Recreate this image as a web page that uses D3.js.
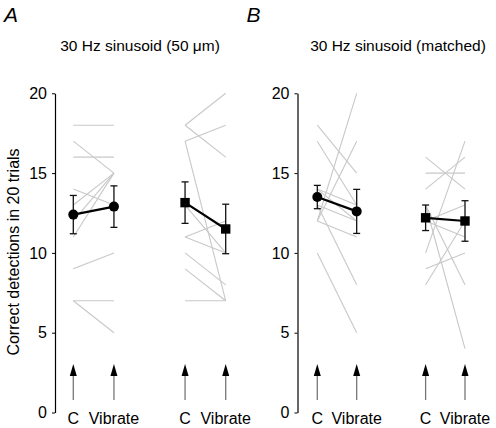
<!DOCTYPE html>
<html><head><meta charset="utf-8">
<script src="https://cdn.jsdelivr.net/npm/d3@7"></script>
<style>body{margin:0;background:#fff}svg{display:block}text{font-family:"Liberation Sans",Arial,sans-serif}</style>
</head><body><svg id="c" width="496" height="428"></svg>
<script>
// ---- data ----
const categories = ["C", "Vibrate"];
const panelTitles = ["30 Hz sinusoid (50 \u03bcm)", "30 Hz sinusoid (matched)"];
const panelLetters = ["A", "B"];
const yTicks = [0, 5, 10, 15, 20];
// Individual subjects (C value, Vibrate value)
const a1C = [18, 17, 16, 14, 13, 12, 11, 9, 7, 7];
const a1V = [18, 15, 16, 13, 15, 15, 15, 10, 7, 5];
const a2C = [18, 18, 17, 17, 13, 11, 11, 10, 9, 7];
const a2V = [20, 16, 18, 7, 10, 12, 10, 8, 7, 7];
const b1C = [18, 17, 12, 12, 14, 13, 12, 13, 10, 14];
const b1V = [15, 13, 20, 17, 13, 12, 11, 8, 5, 12];
const b2C = [16, 14, 15, 10, 13, 9, 8, 13, 12, 12];
const b2V = [14, 16, 15, 17, 4, 10, 12, 8, 13, 11];
// group means and SE [C, Vibrate]
const a1Mean = [12.4, 12.9], a1SE = [1.2, 1.3];
const a2Mean = [13.15, 11.5], a2SE = [1.3, 1.55];
const b1Mean = [13.5, 12.6], b1SE = [0.73, 1.38];
const b2Mean = [12.2, 12.0], b2SE = [0.8, 1.27];

const svg = d3.select("#c");
const y = d3.scaleLinear().domain([0, 20]).range([412.5, 93.3]);

const panels = [
  {axisX: 55, xr: [73.3, 225.7], titleX: 140, groups: [
    {pos: [0, 1], c: a1C, v: a1V, mean: a1Mean, se: a1SE, marker: "circle"},
    {pos: [2.75, 3.75], c: a2C, v: a2V, mean: a2Mean, se: a2SE, marker: "square"}]},
  {axisX: 297.5, xr: [317.3, 465], titleX: 398, groups: [
    {pos: [0, 1], c: b1C, v: b1V, mean: b1Mean, se: b1SE, marker: "circle"},
    {pos: [2.75, 3.75], c: b2C, v: b2V, mean: b2Mean, se: b2SE, marker: "square"}]}
];

panels.forEach((p, pi) => {
  const x = d3.scaleLinear().domain([0, 3.75]).range(p.xr);
  const g = svg.append("g");
  // axis
  const ax = g.append("g").attr("transform", `translate(${p.axisX},0)`)
    .call(d3.axisLeft(y).tickValues(yTicks).tickSize(3).tickSizeOuter(0).tickPadding(5));
  ax.select(".domain").attr("stroke", "#000").attr("stroke-width", 1.2);
  ax.selectAll(".tick line").attr("stroke", "#000");
  ax.selectAll(".tick text").attr("font-size", 16).attr("fill", "#000")
    .style("font-family", '"Liberation Sans",Arial,sans-serif');

  // panel letter & title
  svg.append("text").attr("x", p.axisX - 51).attr("y", 22).attr("font-size", 21)
    .attr("font-style", "italic").text(panelLetters[pi]);
  svg.append("text").attr("x", p.titleX).attr("y", 51).attr("font-size", 15.5)
    .attr("text-anchor", "middle").text(panelTitles[pi]);

  p.groups.forEach(gr => {
    const xc = x(gr.pos[0]), xv = x(gr.pos[1]);
    // individual lines
    g.selectAll(null).data(d3.range(gr.c.length)).enter().append("line")
      .attr("x1", xc).attr("x2", xv)
      .attr("y1", i => y(gr.c[i])).attr("y2", i => y(gr.v[i]))
      .attr("stroke", "#c8c8c8").attr("stroke-width", 1.1);
    // error bars
    [xc, xv].forEach((xx, k) => {
      const lo = y(gr.mean[k] - gr.se[k]), hi = y(gr.mean[k] + gr.se[k]);
      const col = "#111";
      g.append("line").attr("x1", xx).attr("x2", xx).attr("y1", lo).attr("y2", hi)
        .attr("stroke", col).attr("stroke-width", 1.3);
      [lo, hi].forEach(yy => g.append("line").attr("x1", xx - 3.5).attr("x2", xx + 3.5)
        .attr("y1", yy).attr("y2", yy).attr("stroke", col).attr("stroke-width", 1.3));
    });
    // mean line
    g.append("line").attr("x1", xc).attr("x2", xv)
      .attr("y1", y(gr.mean[0])).attr("y2", y(gr.mean[1]))
      .attr("stroke", "#000").attr("stroke-width", 2.2);
    // markers
    [xc, xv].forEach((xx, k) => {
      if (gr.marker === "circle") {
        g.append("circle").attr("cx", xx).attr("cy", y(gr.mean[k])).attr("r", 5).attr("fill", "#000");
      } else {
        g.append("rect").attr("x", xx - 4.7).attr("y", y(gr.mean[k]) - 4.7)
          .attr("width", 9.4).attr("height", 9.4).attr("fill", "#000");
      }
    });
    // arrows and category labels
    [xc, xv].forEach((xx, k) => {
      g.append("line").attr("x1", xx).attr("x2", xx).attr("y1", 400).attr("y2", 374)
        .attr("stroke", "#777").attr("stroke-width", 1.3);
      g.append("path").attr("d", `M${xx},364L${xx - 3.5},376L${xx + 3.5},376Z`).attr("fill", "#000");
      g.append("text").attr("x", xx).attr("y", 424).attr("font-size", 16)
        .attr("text-anchor", "middle").text(categories[k]);
    });
  });
});

// y label
svg.append("text").attr("transform", "translate(19,252) rotate(-90)")
  .attr("text-anchor", "middle").attr("font-size", 16).text("Correct detections in 20 trials");
</script></body></html>
